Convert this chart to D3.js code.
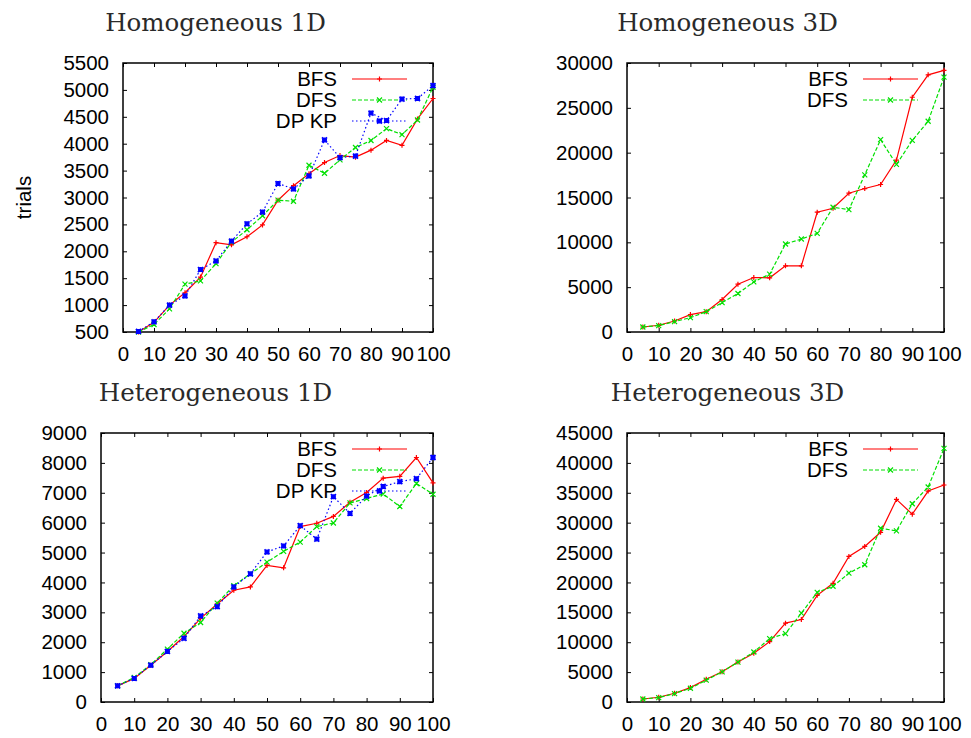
<!DOCTYPE html>
<html>
<head>
<meta charset="utf-8">
<script src="https://cdn.jsdelivr.net/npm/d3@7"></script>
<style>
  body { margin: 0; background: #fff; }
  .tick text { font-family: "Liberation Sans", Arial, sans-serif; font-size: 20.5px; fill: #000; }
  .title { font-family: "DejaVu Serif", serif; font-size: 24.5px; fill: #2a2a2a; }
  .legend text, .ylabel { font-family: "Liberation Sans", Arial, sans-serif; font-size: 20.5px; fill: #000; }
</style>
</head>
<body>
<div id="chart"></div>
<script>
/////////////////////////////////////////////////////////
///////////////////////// Data //////////////////////////
/////////////////////////////////////////////////////////

const sizes = [5, 10, 15, 20, 25, 30, 35, 40, 45, 50, 55, 60, 65, 70, 75, 80, 85, 90, 95, 100];
const xTicks = [0, 10, 20, 30, 40, 50, 60, 70, 80, 90, 100];

// Homogeneous 1D
const homo1dBFS  = [500, 680, 1000, 1230, 1520, 2160, 2120, 2270, 2490, 2950, 3220, 3440, 3650, 3780, 3750, 3880, 4060, 3970, 4460, 4840];
const homo1dDFS  = [500, 640, 930, 1390, 1450, 1770, 2170, 2400, 2660, 2950, 2930, 3600, 3450, 3700, 3930, 4060, 4280, 4170, 4440, 5050];
const homo1dDPKP = [510, 690, 1000, 1170, 1660, 1820, 2190, 2510, 2730, 3260, 3160, 3400, 4070, 3740, 3770, 4570, 4430, 4830, 4840, 5080];
const homo1dTicks = [500, 1000, 1500, 2000, 2500, 3000, 3500, 4000, 4500, 5000, 5500];

// Homogeneous 3D
const homo3dBFS = [560, 750, 1230, 1940, 2270, 3620, 5330, 6080, 6040, 7380, 7380, 13360, 13800, 15480, 16000, 16450, 19170, 26180, 28680, 29170];
const homo3dDFS = [560, 710, 1160, 1600, 2270, 3280, 4290, 5590, 6450, 9810, 10370, 11000, 13910, 13650, 17530, 21450, 18690, 21370, 23500, 28420];
const homo3dTicks = [0, 5000, 10000, 15000, 20000, 25000, 30000];

// Heterogeneous 1D
const het1dBFS  = [540, 790, 1230, 1690, 2190, 2800, 3280, 3740, 3850, 4570, 4490, 5870, 5980, 6210, 6680, 7010, 7490, 7550, 8180, 7330];
const het1dDFS  = [540, 820, 1250, 1770, 2300, 2660, 3310, 3890, 4290, 4680, 5040, 5350, 5870, 5990, 6660, 6810, 6960, 6540, 7310, 6950];
const het1dDPKP = [540, 790, 1230, 1690, 2130, 2880, 3190, 3850, 4290, 5020, 5220, 5900, 5450, 6870, 6310, 6890, 7210, 7370, 7470, 8180];
const het1dTicks = [0, 1000, 2000, 3000, 4000, 5000, 6000, 7000, 8000, 9000];

// Heterogeneous 3D
const het3dBFS = [500, 790, 1460, 2410, 3810, 5050, 6680, 8140, 10100, 13190, 13800, 17840, 19860, 24350, 26030, 28390, 33890, 31420, 35290, 36300];
const het3dDFS = [500, 730, 1400, 2300, 3650, 5050, 6680, 8360, 10600, 11450, 14870, 18350, 19360, 21550, 22960, 29070, 28620, 33170, 35970, 42420];
const het3dTicks = [0, 5000, 10000, 15000, 20000, 25000, 30000, 35000, 40000, 45000];

/////////////////////////////////////////////////////////
//////////////////////// Styles /////////////////////////
/////////////////////////////////////////////////////////

const styles = {
  BFS:    { color: "#ff0000", dash: null,  marker: "plus" },
  DFS:    { color: "#00e000", dash: "4,2", marker: "cross" },
  "DP KP":{ color: "#0000ff", dash: "1.5,2.5", marker: "star" }
};

const panels = [
  { title: "Homogeneous 1D",   tx: 215.5, x0: 123, x1: 433, y0: 63,  y1: 332, yTicks: homo1dTicks, ylabel: "trials",
    series: [["BFS", homo1dBFS], ["DFS", homo1dDFS], ["DP KP", homo1dDPKP]] },
  { title: "Homogeneous 3D",   tx: 727.5, x0: 627, x1: 944, y0: 63,  y1: 332, yTicks: homo3dTicks,
    series: [["BFS", homo3dBFS], ["DFS", homo3dDFS]] },
  { title: "Heterogeneous 1D", tx: 215.5, x0: 101, x1: 433, y0: 433, y1: 702, yTicks: het1dTicks,
    series: [["BFS", het1dBFS], ["DFS", het1dDFS], ["DP KP", het1dDPKP]] },
  { title: "Heterogeneous 3D", tx: 727.5, x0: 627, x1: 944, y0: 433, y1: 702, yTicks: het3dTicks,
    series: [["BFS", het3dBFS], ["DFS", het3dDFS]] }
];

// marker path, centred on (x, y)
function markerPath(type, x, y) {
  const s = 2.5;
  const plus = "M" + (x - s) + "," + y + "H" + (x + s) + "M" + x + "," + (y - s) + "V" + (y + s);
  const cross = "M" + (x - s) + "," + (y - s) + "L" + (x + s) + "," + (y + s) +
                "M" + (x - s) + "," + (y + s) + "L" + (x + s) + "," + (y - s);
  if (type == "plus") return plus;
  if (type == "cross") return cross;
  return plus + cross;
}

/////////////////////////////////////////////////////////
///////////////////////// Draw //////////////////////////
/////////////////////////////////////////////////////////

const svg = d3.select("#chart").append("svg")
  .attr("width", 971)
  .attr("height", 738);

panels.forEach(function(p) {
  const x = d3.scaleLinear().domain([0, 100]).range([p.x0, p.x1]);
  const y = d3.scaleLinear().domain(d3.extent(p.yTicks)).range([p.y1, p.y0]);
  const g = svg.append("g");

  // title
  g.append("text")
    .attr("class", "title")
    .attr("x", p.tx)
    .attr("y", p.y0 - 32)
    .attr("text-anchor", "middle")
    .text(p.title);

  // axes, ticks pointing inwards on all four sides
  g.append("g").attr("transform", "translate(" + p.x0 + ",0)")
    .call(d3.axisLeft(y).tickValues(p.yTicks).tickSize(-4).tickPadding(14).tickFormat(d3.format("d")));
  g.append("g").attr("transform", "translate(" + p.x1 + ",0)")
    .call(d3.axisRight(y).tickValues(p.yTicks).tickSize(-4).tickFormat(""));
  g.append("g").attr("transform", "translate(0," + p.y1 + ")")
    .call(d3.axisBottom(x).tickValues(xTicks).tickSize(-4).tickPadding(14));
  g.append("g").attr("transform", "translate(0," + p.y0 + ")")
    .call(d3.axisTop(x).tickValues(xTicks).tickSize(-4).tickFormat(""));
  g.selectAll(".domain").remove();
  g.selectAll(".tick line").attr("stroke", "#000").attr("stroke-width", 1);

  // frame
  g.append("rect")
    .attr("x", p.x0).attr("y", p.y0)
    .attr("width", p.x1 - p.x0).attr("height", p.y1 - p.y0)
    .attr("fill", "none").attr("stroke", "#000").attr("stroke-width", 1.5);

  if (p.ylabel) {
    g.append("text")
      .attr("class", "ylabel")
      .attr("transform", "translate(" + 31 + "," + ((p.y0 + p.y1) / 2) + ") rotate(-90)")
      .attr("text-anchor", "middle")
      .text(p.ylabel);
  }

  // series
  const line = d3.line()
    .x(function(d, i) { return x(sizes[i]); })
    .y(function(d) { return y(d); });

  p.series.forEach(function(s, k) {
    const st = styles[s[0]];
    g.append("path")
      .attr("d", line(s[1]))
      .attr("fill", "none")
      .attr("stroke", st.color)
      .attr("stroke-width", 1.2)
      .attr("stroke-dasharray", st.dash);
    g.append("path")
      .attr("d", s[1].map(function(d, i) { return markerPath(st.marker, x(sizes[i]), y(d)); }).join(""))
      .attr("fill", "none")
      .attr("stroke", st.color)
      .attr("stroke-width", st.marker == "star" ? 1.8 : 1.2);

    // legend entry
    const ly = p.y0 + 16 + k * 21;
    const lg = g.append("g").attr("class", "legend");
    lg.append("text")
      .attr("x", p.x1 - 96)
      .attr("y", ly)
      .attr("dy", "0.35em")
      .attr("text-anchor", "end")
      .text(s[0]);
    lg.append("line")
      .attr("x1", p.x1 - 81).attr("x2", p.x1 - 26)
      .attr("y1", ly).attr("y2", ly)
      .attr("stroke", st.color)
      .attr("stroke-width", 1.2)
      .attr("stroke-dasharray", st.dash);
    lg.append("path")
      .attr("d", markerPath(st.marker, p.x1 - 53.5, ly))
      .attr("fill", "none")
      .attr("stroke", st.color)
      .attr("stroke-width", st.marker == "star" ? 1.8 : 1.2);
  });
});
</script>
</body>
</html>
